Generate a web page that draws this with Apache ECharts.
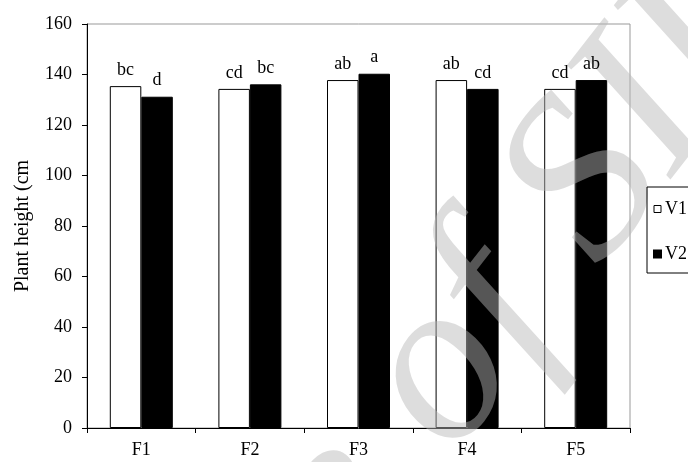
<!DOCTYPE html>
<html>
<head>
<meta charset="utf-8">
<script src="https://cdn.jsdelivr.net/npm/echarts@6/dist/echarts.min.js"></script>
<style>
html,body{margin:0;padding:0;background:#fff;}
#chart{width:688px;height:462px;}
</style>
</head>
<body>
<div id="chart"></div>
<script>
const categories = ['F1', 'F2', 'F3', 'F4', 'F5'];
const v1 = [135.4, 134.3, 137.8, 137.8, 134.3];
const v2 = [131.2, 136.1, 140.3, 134.3, 137.8];
const v1Letters = ['bc', 'cd', 'ab', 'ab', 'cd'];
const v2Letters = ['d', 'bc', 'a', 'cd', 'ab'];
const yMin = 0, yMax = 160, yStep = 20;
const yTitle = 'Plant height (cm';
const seriesNames = ['V1', 'V2'];
const watermark = 'Archive of SID';

const FONT = '"Liberation Serif", "Times New Roman", serif';
const chart = echarts.init(document.getElementById('chart'), null, {renderer: 'canvas'});

function mkData(vals, letters) {
  return vals.map((v, i) => ({value: v, label: {formatter: letters[i]}}));
}
const labelStyle = {show: true, position: 'top', distance: 7, fontFamily: FONT, fontSize: 18, color: '#000'};

chart.setOption({
  backgroundColor: '#fff',
  animation: false,
  textStyle: {fontFamily: FONT},
  grid: {left: 87, right: 58, top: 24, bottom: 34, show: true, borderColor: '#999', borderWidth: 1, backgroundColor: 'transparent'},
  legend: {
    left: 647, top: 187, orient: 'vertical',
    data: [
      {name: seriesNames[0], icon: 'rect', itemStyle: {color: '#fff', borderColor: '#000', borderWidth: 1}},
      {name: seriesNames[1], icon: 'rect', itemStyle: {color: '#000'}}
    ],
    itemWidth: 7, itemHeight: 7, itemGap: 27,
    padding: [13, 8, 10, 6],
    borderColor: '#000', borderWidth: 1,
    textStyle: {fontFamily: FONT, fontSize: 18, color: '#000', padding: [0, 0, 0, -1]}
  },
  xAxis: [{
    type: 'category', data: categories,
    axisLine: {lineStyle: {color: '#000', width: 1}},
    axisTick: {show: true, length: 5, inside: false, lineStyle: {color: '#000'}},
    axisLabel: {fontFamily: FONT, fontSize: 18, color: '#000', margin: 13}
  }, {
    type: 'category', data: categories, position: 'bottom', show: false
  }],
  yAxis: {
    type: 'value', min: yMin, max: yMax, interval: yStep,
    name: yTitle, nameLocation: 'middle', nameGap: 54, nameRotate: 90,
    nameTextStyle: {fontFamily: FONT, fontSize: 20, color: '#000'},
    axisLine: {show: true, lineStyle: {color: '#000', width: 1}},
    axisTick: {show: true, length: 5, lineStyle: {color: '#000'}},
    splitLine: {show: false},
    axisLabel: {fontFamily: FONT, fontSize: 18, color: '#000', margin: 15}
  },
  series: [
    {
      name: seriesNames[0], type: 'bar', data: v1, xAxisIndex: 0, z: 2,
      barWidth: 31.5, barGap: '0%',
      itemStyle: {color: '#fff', borderColor: '#000', borderWidth: 1}
    },
    {
      name: seriesNames[1], type: 'bar', data: v2, xAxisIndex: 0, z: 2,
      barWidth: 31.5, barGap: '0%',
      itemStyle: {color: '#000', borderColor: '#000', borderWidth: 1}
    },
    {
      name: 'lab1', type: 'bar', data: mkData(v1, v1Letters), xAxisIndex: 1, z: 5,
      barWidth: 31.5, barGap: '0%', silent: true,
      itemStyle: {color: 'rgba(0,0,0,0)', borderWidth: 0},
      label: labelStyle
    },
    {
      name: 'lab2', type: 'bar', data: mkData(v2, v2Letters), xAxisIndex: 1, z: 5,
      barWidth: 31.5, barGap: '0%', silent: true,
      itemStyle: {color: 'rgba(0,0,0,0)', borderWidth: 0},
      label: labelStyle
    }
  ],
  graphic: [{
    type: 'text', x: 352, y: 488, rotation: 52 * Math.PI / 180, z: 3, silent: true,
    style: {
      text: watermark, x: 0, y: 0, align: 'center', verticalAlign: 'middle',
      font: 'italic 232px "Liberation Serif"', fill: 'rgba(182,182,182,0.47)'
    }
  }]
});
</script>
</body>
</html>
